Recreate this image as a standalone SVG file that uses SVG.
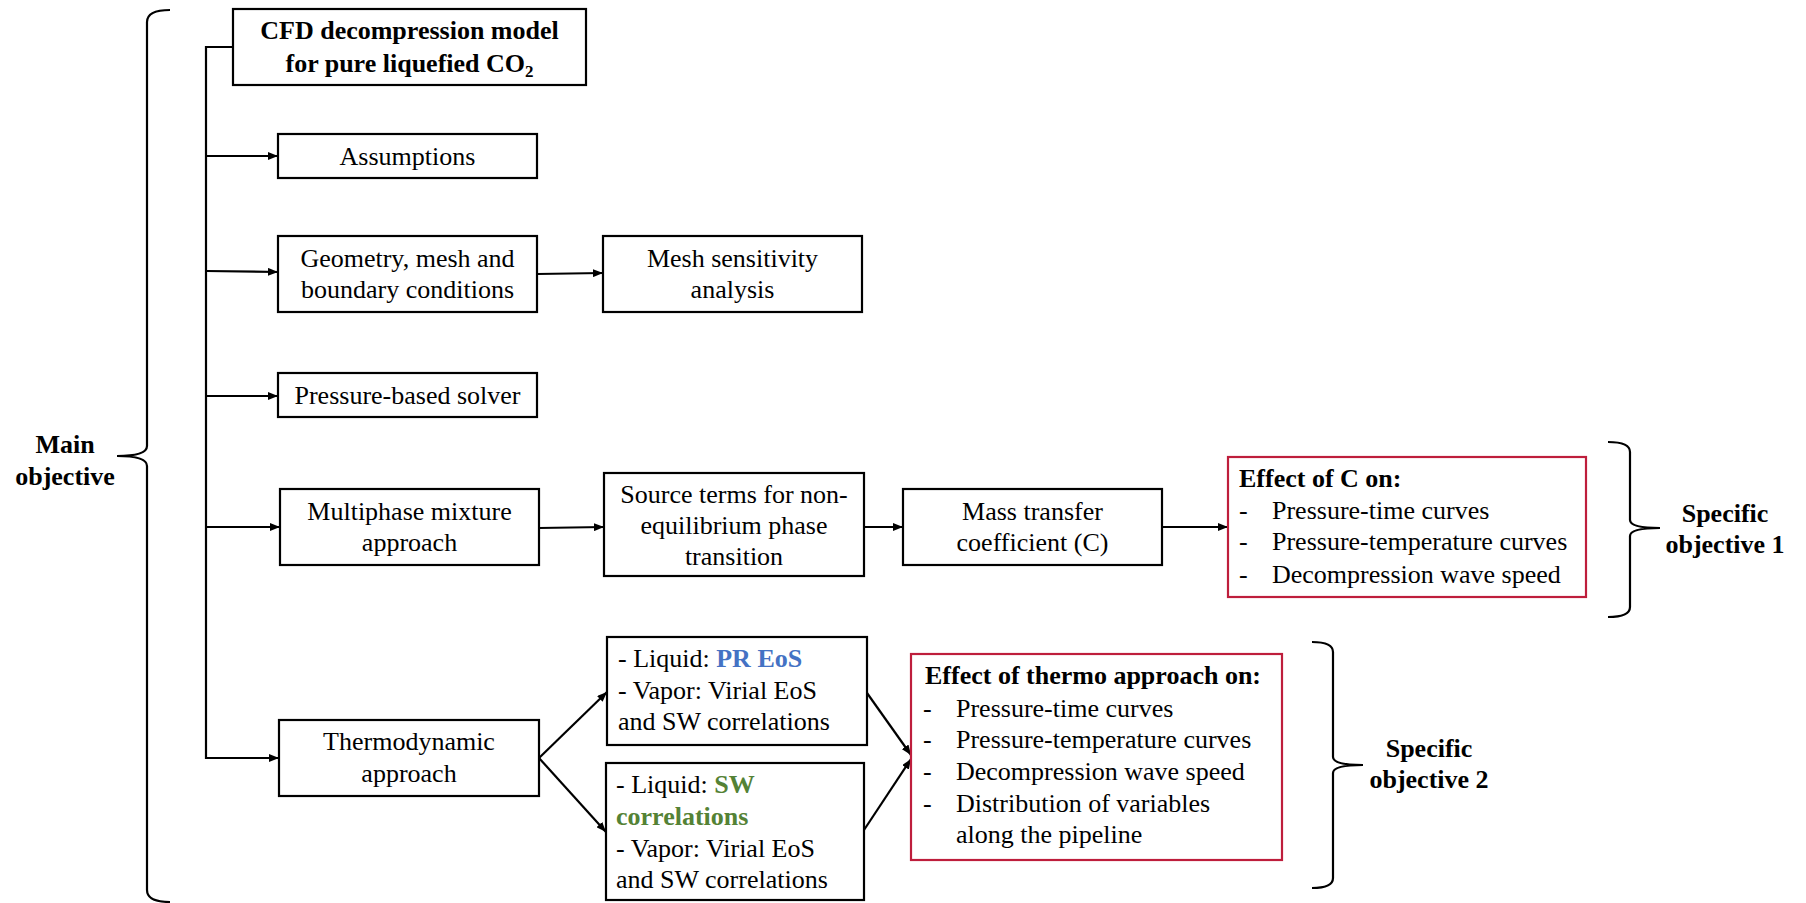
<svg xmlns="http://www.w3.org/2000/svg" width="1806" height="903" viewBox="0 0 1806 903">
<style>
.box{fill:#fff;stroke:#000;stroke-width:2.2}
.rbox{fill:#fff;stroke:#BE1E3C;stroke-width:2.2}
.t{font-family:"Liberation Serif","Times New Roman",serif;font-size:26px;fill:#000}
.c{text-anchor:middle}
.b{font-weight:bold}
.blue{fill:#4472C4;font-weight:bold}
.green{fill:#548235;font-weight:bold}
.ln{fill:none;stroke:#000;stroke-width:2.2}
.br{fill:none;stroke:#000;stroke-width:2.2;stroke-linejoin:miter}
</style>
<defs>
<marker id="ah" markerWidth="10" markerHeight="8" refX="10" refY="4" orient="auto" markerUnits="userSpaceOnUse">
<path d="M0,0 L10,4 L0,8 Z" fill="#000"/>
</marker>
</defs>
<rect width="1806" height="903" fill="#fff"/>

<g id="connectors">
<path class="ln" d="M233,47 L206,47 L206,758 L279,758" marker-end="url(#ah)"/>
<line class="ln" x1="206" y1="156" x2="278" y2="156" marker-end="url(#ah)"/>
<line class="ln" x1="206" y1="271" x2="278" y2="272" marker-end="url(#ah)"/>
<line class="ln" x1="206" y1="396" x2="278" y2="396" marker-end="url(#ah)"/>
<line class="ln" x1="206" y1="527" x2="280" y2="527" marker-end="url(#ah)"/>
<line class="ln" x1="537" y1="274" x2="603" y2="273" marker-end="url(#ah)"/>
<line class="ln" x1="539" y1="528" x2="604" y2="527" marker-end="url(#ah)"/>
<line class="ln" x1="864" y1="527" x2="903" y2="527" marker-end="url(#ah)"/>
<line class="ln" x1="1162" y1="527" x2="1228" y2="527" marker-end="url(#ah)"/>
<line class="ln" x1="539" y1="758" x2="607" y2="692" marker-end="url(#ah)"/>
<line class="ln" x1="539" y1="758" x2="606" y2="832" marker-end="url(#ah)"/>
<line class="ln" x1="867" y1="693" x2="911" y2="755" marker-end="url(#ah)"/>
<line class="ln" x1="864" y1="830" x2="911" y2="759" marker-end="url(#ah)"/>
</g>

<g id="brace-main">
<path class="br" d="M170,10 Q147,10 147,22 L147,446 Q147,456 117,456 Q147,456 147,466 L147,890 Q147,902 170,902"/>
<text class="t b c" x="65" y="453">Main</text>
<text class="t b c" x="65" y="485">objective</text>
</g>

<g id="brace-specific1">
<path class="br" d="M1608,442 Q1630,442 1630,452 L1630,520 Q1630,528 1660,528 Q1630,528 1630,536 L1630,607 Q1630,617 1608,617"/>
<text class="t b c" x="1725" y="522">Specific</text>
<text class="t b c" x="1725" y="553">objective 1</text>
</g>

<g id="brace-specific2">
<path class="br" d="M1312,642 Q1333,642 1333,652 L1333,757 Q1333,765 1363,765 Q1333,765 1333,773 L1333,878 Q1333,888 1312,888"/>
<text class="t b c" x="1429" y="757">Specific</text>
<text class="t b c" x="1429" y="788">objective 2</text>
</g>

<g id="node-cfd">
<rect class="box" x="233" y="9" width="353" height="76"/>
<text class="t b c" x="409.5" y="39">CFD decompression model</text>
<text class="t b c" x="409.5" y="72">for pure liquefied CO<tspan font-size="17" dy="5">2</tspan></text>
</g>

<g id="node-assumptions">
<rect class="box" x="278" y="134" width="259" height="44"/>
<text class="t c" x="407.5" y="165">Assumptions</text>
</g>

<g id="node-geometry">
<rect class="box" x="278" y="236" width="259" height="76"/>
<text class="t c" x="407.5" y="267">Geometry, mesh and</text>
<text class="t c" x="407.5" y="298">boundary conditions</text>
</g>

<g id="node-mesh">
<rect class="box" x="603" y="236" width="259" height="76"/>
<text class="t c" x="732.5" y="267">Mesh sensitivity</text>
<text class="t c" x="732.5" y="298">analysis</text>
</g>

<g id="node-solver">
<rect class="box" x="278" y="373" width="259" height="44"/>
<text class="t c" x="407.5" y="404">Pressure-based solver</text>
</g>

<g id="node-multiphase">
<rect class="box" x="280" y="489" width="259" height="76"/>
<text class="t c" x="409.5" y="520">Multiphase mixture</text>
<text class="t c" x="409.5" y="551">approach</text>
</g>

<g id="node-source">
<rect class="box" x="604" y="473" width="260" height="103"/>
<text class="t c" x="734" y="503">Source terms for non-</text>
<text class="t c" x="734" y="534">equilibrium phase</text>
<text class="t c" x="734" y="565">transition</text>
</g>

<g id="node-mass">
<rect class="box" x="903" y="489" width="259" height="76"/>
<text class="t c" x="1032.5" y="520">Mass transfer</text>
<text class="t c" x="1032.5" y="551">coefficient (C)</text>
</g>

<g id="node-effectC">
<rect class="rbox" x="1228" y="457" width="358" height="140"/>
<text class="t b" x="1239" y="487">Effect of C on:</text>
<text class="t" x="1239" y="519">-</text><text class="t" x="1272" y="519">Pressure-time curves</text>
<text class="t" x="1239" y="550">-</text><text class="t" x="1272" y="550">Pressure-temperature curves</text>
<text class="t" x="1239" y="583">-</text><text class="t" x="1272" y="583">Decompression wave speed</text>
</g>

<g id="node-thermo">
<rect class="box" x="279" y="720" width="260" height="76"/>
<text class="t c" x="409" y="750">Thermodynamic</text>
<text class="t c" x="409" y="782">approach</text>
</g>

<g id="node-pr">
<rect class="box" x="607" y="637" width="260" height="108"/>
<text class="t" x="618" y="667">- Liquid: <tspan class="blue">PR EoS</tspan></text>
<text class="t" x="618" y="699">- Vapor: Virial EoS</text>
<text class="t" x="618" y="730">and SW correlations</text>
</g>

<g id="node-sw">
<rect class="box" x="606" y="763" width="258" height="137"/>
<text class="t" x="616" y="793">- Liquid: <tspan class="green">SW</tspan></text>
<text class="t green" x="616" y="825">correlations</text>
<text class="t" x="616" y="857">- Vapor: Virial EoS</text>
<text class="t" x="616" y="888">and SW correlations</text>
</g>

<g id="node-effectThermo">
<rect class="rbox" x="911" y="654" width="371" height="206"/>
<text class="t b" x="925" y="684">Effect of thermo approach on:</text>
<text class="t" x="923" y="717">-</text><text class="t" x="956" y="717">Pressure-time curves</text>
<text class="t" x="923" y="748">-</text><text class="t" x="956" y="748">Pressure-temperature curves</text>
<text class="t" x="923" y="780">-</text><text class="t" x="956" y="780">Decompression wave speed</text>
<text class="t" x="923" y="812">-</text><text class="t" x="956" y="812">Distribution of variables</text>
<text class="t" x="956" y="843">along the pipeline</text>
</g>
</svg>
